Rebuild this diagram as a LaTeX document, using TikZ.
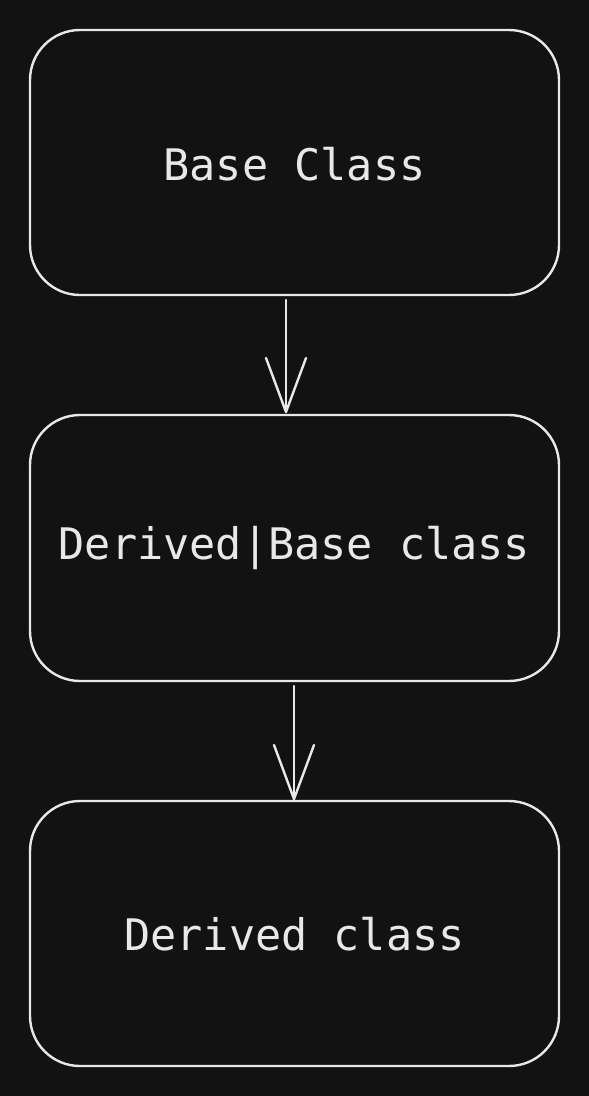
\documentclass[tikz,border=0pt]{standalone}
\usepackage{fontspec}
\setmonofont{DejaVu Sans Mono}
\definecolor{bg}{HTML}{121212}
\definecolor{fg}{HTML}{E8E8E8}
\begin{document}
\begin{tikzpicture}[x=1pt,y=-1pt,
  box/.style={draw=fg,line width=2.4pt,rounded corners=50pt},
  lbl/.style={text=fg,font=\ttfamily\fontsize{43.5}{50}\selectfont,inner sep=0pt,anchor=center},
  conn/.style={draw=fg,line width=2.4pt,line cap=round,line join=round}]
\fill[bg] (0,0) rectangle (589,1096);
\useasboundingbox (0,0) rectangle (589,1096);
\draw[box] (30,30) rectangle (559,295);
\draw[box] (30,415) rectangle (559,681);
\draw[box] (30,801) rectangle (559,1066);
\node[lbl] (t1) at (294.5,164) {Base Class};
\node[lbl] (t2) at (294.5,548) {Derived|Base class};
\node[lbl] (t3) at (294.5,934) {Derived class};
\coordinate (a1s) at (286,300);
\coordinate (a1e) at (286,412);
\coordinate (a2s) at (294,686);
\coordinate (a2e) at (294,799);
\draw[conn] (a1s) -- (a1e);
\draw[conn] (266,358) -- (a1e) -- (306,358);
\draw[conn] (a2s) -- (a2e);
\draw[conn] (274,745) -- (a2e) -- (314,745);
\end{tikzpicture}
\end{document}
